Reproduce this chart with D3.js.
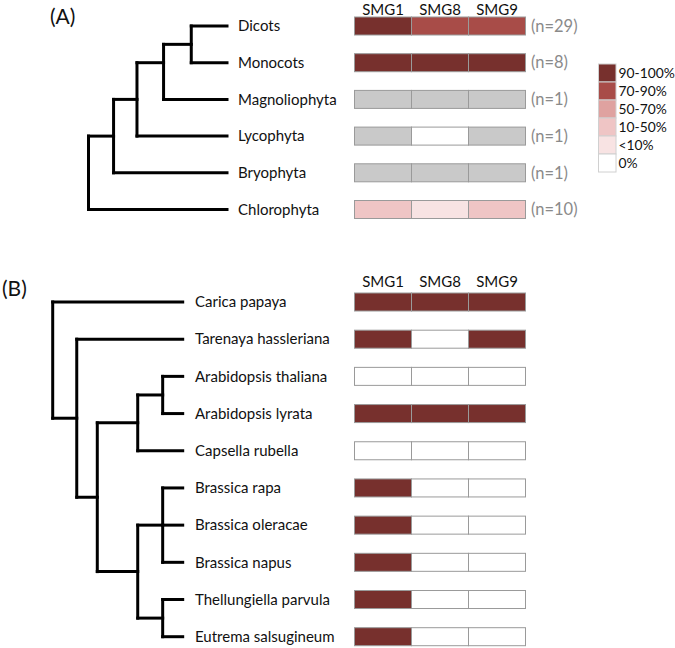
<!DOCTYPE html>
<html><head><meta charset="utf-8">
<script src="https://cdn.jsdelivr.net/npm/d3@7"></script>
<style>
body{margin:0;background:#fff;}
svg{display:block;font-family:Lato,"Open Sans",sans-serif;}
</style></head>
<body><svg id="c" width="675" height="648"></svg>
<script>
// ---------- DATA ----------
const genes = ["SMG1", "SMG8", "SMG9"];

// legend categories (from darkest to white)
const legendLabels = ["90-100%", "70-90%", "50-70%", "10-50%", "<10%", "0%"];
const legendColors = ["#77302d", "#a84c48", "#dfa2a0", "#efc5c5", "#f8e3e3", "#ffffff"];
const presentColor = "#c9c9c9";   // single-genome groups (present)

// Panel A
const taxaA = ["Dicots", "Monocots", "Magnoliophyta", "Lycophyta", "Bryophyta", "Chlorophyta"];
const countsA = ["(n=29)", "(n=8)", "(n=1)", "(n=1)", "(n=1)", "(n=10)"];
// values per taxon for SMG1, SMG8, SMG9: legend label or "present"
const valuesA = [
  ["90-100%", "70-90%", "70-90%"],
  ["90-100%", "90-100%", "90-100%"],
  ["present", "present", "present"],
  ["present", "0%", "present"],
  ["present", "present", "present"],
  ["10-50%", "<10%", "10-50%"]
];
// tree A: nested, internal node depth (0 = root, 1 = tips)
const treeA = {depth: 0, children: [
  {depth: 0.181, children: [
    {depth: 0.35, children: [
      {depth: 0.542, anchor: "Monocots", children: [
        {depth: 0.742, children: [{name: "Dicots"}, {name: "Monocots"}]},
        {name: "Magnoliophyta"}]},
      {name: "Lycophyta"}]},
    {name: "Bryophyta"}]},
  {name: "Chlorophyta"}]};

// Panel B
const taxaB = ["Carica papaya", "Tarenaya hassleriana", "Arabidopsis thaliana", "Arabidopsis lyrata",
  "Capsella rubella", "Brassica rapa", "Brassica oleracae", "Brassica napus",
  "Thellungiella parvula", "Eutrema salsugineum"];
// 1 = present, 0 = absent
const valuesB = [
  [1, 1, 1], [1, 0, 1], [0, 0, 0], [1, 1, 1], [0, 0, 0],
  [1, 0, 0], [1, 0, 0], [1, 0, 0], [1, 0, 0], [1, 0, 0]
];
const treeB = {depth: 0, children: [
  {name: "Carica papaya"},
  {depth: 0.185, children: [
    {name: "Tarenaya hassleriana"},
    {depth: 0.343, children: [
      {depth: 0.654, children: [
        {depth: 0.846, children: [{name: "Arabidopsis thaliana"}, {name: "Arabidopsis lyrata"}]},
        {name: "Capsella rubella"}]},
      {depth: 0.654, children: [
        {depth: 0.846, children: [{name: "Brassica rapa"}, {name: "Brassica oleracae"}, {name: "Brassica napus"}]},
        {depth: 0.846, children: [{name: "Thellungiella parvula"}, {name: "Eutrema salsugineum"}]}]}]}]}]};

// ---------- DRAW ----------
const svg = d3.select("#c");
const color = d3.scaleOrdinal().domain(legendLabels.concat(["present"])).range(legendColors.concat([presentColor]));
const colorB = d3.scaleOrdinal().domain([1, 0]).range([legendColors[0], "#ffffff"]);

function drawTree(g, tree, taxa, xScale, yScale) {
  const root = d3.hierarchy(tree);
  root.eachAfter(n => {
    if (!n.children) { n.px = xScale(1); n.py = yScale(n.data.name); }
    else {
      n.px = xScale(n.data.depth);
      n.py = n.data.anchor ? yScale(n.data.anchor)
        : (n.children[0].py + n.children[n.children.length - 1].py) / 2;
    }
  });
  const segs = [];
  root.each(n => {
    if (n.children) {
      segs.push([n.px, n.children[0].py, n.px, n.children[n.children.length - 1].py]);
      n.children.forEach(c => segs.push([n.px, c.py, c.px, c.py]));
    }
  });
  g.selectAll("line.br").data(segs).join("line").attr("class", "br")
    .attr("x1", d => d[0]).attr("y1", d => d[1]).attr("x2", d => d[2]).attr("y2", d => d[3])
    .attr("stroke", "#000").attr("stroke-width", 3).attr("stroke-linecap", "square");
}

function drawLabels(g, taxa, x, yScale) {
  g.selectAll("text.lab").data(taxa).join("text").attr("class", "lab")
    .attr("x", x).attr("y", d => yScale(d)).attr("dy", "0.35em")
    .attr("font-size", 15).attr("fill", "#111").text(d => d);
}

function drawHeat(g, taxa, values, fill, xCol, yScale, headerY) {
  const cellH = 18;
  const cells = [];
  taxa.forEach((t, i) => genes.forEach((gname, j) => cells.push({t, gname, v: values[i][j]})));
  g.selectAll("rect.cell").data(cells).join("rect").attr("class", "cell")
    .attr("x", d => xCol(d.gname)).attr("y", d => yScale(d.t) - cellH / 2)
    .attr("width", xCol.bandwidth()).attr("height", cellH)
    .attr("fill", d => fill(d.v)).attr("stroke", "#9a9a9a").attr("stroke-width", 1);
  g.selectAll("text.hdr").data(genes).join("text").attr("class", "hdr")
    .attr("x", d => xCol(d) + xCol.bandwidth() / 2).attr("y", headerY)
    .attr("text-anchor", "middle").attr("font-size", 15).attr("fill", "#111").text(d => d);
}

const xCol = d3.scaleBand().domain(genes).range([354.5, 525.5]);

// Panel A
const yA = d3.scalePoint().domain(taxaA).range([26, 209.5]);
const xA = d3.scaleLinear().domain([0, 1]).range([88.5, 227]);
const gA = svg.append("g");
drawTree(gA, treeA, taxaA, xA, yA);
drawLabels(gA, taxaA, 238, yA);
drawHeat(gA, taxaA, valuesA, color, xCol, yA, 14.5);
gA.selectAll("text.cnt").data(taxaA).join("text").attr("class", "cnt")
  .attr("x", 531).attr("y", d => yA(d)).attr("dy", "0.35em")
  .attr("font-size", 16.5).attr("fill", "#8a8a8a").text((d, i) => countsA[i]);
svg.append("text").attr("x", 50).attr("y", 24).attr("font-size", 21).attr("fill", "#111").text("(A)");

// Legend
const yL = d3.scaleBand().domain(legendLabels).range([64, 172]);
const gL = svg.append("g");
gL.selectAll("rect").data(legendLabels).join("rect")
  .attr("x", 598.5).attr("y", d => yL(d)).attr("width", 17.5).attr("height", yL.bandwidth())
  .attr("fill", d => color(d)).attr("stroke", "#d0d0d0").attr("stroke-width", 1);
gL.selectAll("text").data(legendLabels).join("text")
  .attr("x", 618.5).attr("y", d => yL(d) + yL.bandwidth() / 2).attr("dy", "0.35em")
  .attr("font-size", 13.8).attr("fill", "#111").text(d => d);

// Panel B
const yB = d3.scalePoint().domain(taxaB).range([302, 636.7]);
const xB = d3.scaleLinear().domain([0, 1]).range([52.7, 182.7]);
const gB = svg.append("g");
drawTree(gB, treeB, taxaB, xB, yB);
drawLabels(gB, taxaB, 195, yB);
drawHeat(gB, taxaB, valuesB, colorB, xCol, yB, 287);
svg.append("text").attr("x", 2).attr("y", 296).attr("font-size", 21).attr("fill", "#111").text("(B)");
</script></body></html>
